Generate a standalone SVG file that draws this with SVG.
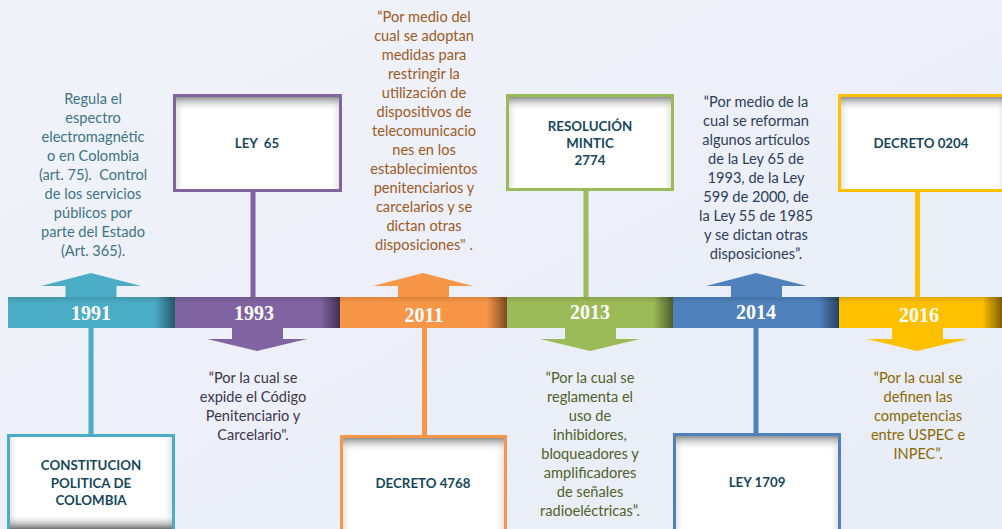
<svg xmlns="http://www.w3.org/2000/svg" width="1002" height="529" viewBox="0 0 1002 529">
<defs>
<linearGradient id="bg" x1="0" y1="0" x2="1" y2="1">
<stop offset="0" stop-color="#F1F3FA"/>
<stop offset="1" stop-color="#E8ECF6"/>
</linearGradient>
<linearGradient id="shade" x1="0" y1="0" x2="1" y2="0">
<stop offset="0" stop-color="#000" stop-opacity="0"/>
<stop offset="0.88" stop-color="#000" stop-opacity="0"/>
<stop offset="1" stop-color="#000" stop-opacity="0.5"/>
</linearGradient>
<linearGradient id="topshade" x1="0" y1="0" x2="0" y2="1">
<stop offset="0" stop-color="#000" stop-opacity="0.12"/>
<stop offset="0.2" stop-color="#000" stop-opacity="0"/>
<stop offset="1" stop-color="#000" stop-opacity="0"/>
</linearGradient>
<linearGradient id="boxtop" x1="0" y1="0" x2="0" y2="1">
<stop offset="0" stop-color="#777777"/>
<stop offset="1" stop-color="#FFFFFF" stop-opacity="0"/>
</linearGradient>
<linearGradient id="boxbot" x1="0" y1="0" x2="0" y2="1">
<stop offset="0" stop-color="#FFFFFF" stop-opacity="0"/>
<stop offset="1" stop-color="#6F6F6F"/>
</linearGradient>
<linearGradient id="boxside" x1="0" y1="0" x2="1" y2="0">
<stop offset="0" stop-color="#000" stop-opacity="0.12"/>
<stop offset="0.05" stop-color="#000" stop-opacity="0"/>
<stop offset="0.95" stop-color="#000" stop-opacity="0"/>
<stop offset="1" stop-color="#000" stop-opacity="0.12"/>
</linearGradient>
</defs>
<style>
.year{font-family:"Liberation Serif","DejaVu Serif",serif;font-weight:bold;font-size:20px;fill:#FFFFFF;text-anchor:middle}
.desc{font-family:Lato,"Open Sans",sans-serif;font-size:14.6px;text-anchor:middle}
.lbl{font-family:Lato,"Open Sans",sans-serif;font-weight:bold;font-size:13.3px;fill:#16475C;text-anchor:middle}
.box{fill:#FFFFFF}
.frame{fill:none;stroke-width:3}
.c1{fill:#4BACC6}.s1{stroke:#4BACC6}
.c2{fill:#8064A2}.s2{stroke:#8064A2}
.c3{fill:#F79646}.s3{stroke:#F79646}
.c4{fill:#9BBB59}.s4{stroke:#9BBB59}
.c5{fill:#4F81BD}.s5{stroke:#4F81BD}
.c6{fill:#FFC000}.s6{stroke:#FFC000}
.conn{stroke-width:5;fill:none}
</style>
<rect x="0" y="0" width="1002" height="529" fill="url(#bg)"/>

<g id="connectors">
<line class="conn s1" x1="91" y1="328" x2="91" y2="435"/>
<line class="conn s2" x1="253" y1="191" x2="253" y2="297"/>
<line class="conn s3" x1="424.5" y1="328" x2="424.5" y2="435"/>
<line class="conn s4" x1="586" y1="190" x2="586" y2="297"/>
<line class="conn s5" x1="756" y1="328" x2="756" y2="433"/>
<line class="conn s6" x1="917.5" y1="191" x2="917.5" y2="297"/>
</g>

<g id="y1991">
<polygon class="c1" points="91,273 141,286 116.5,286 116.5,297 65.5,297 65.5,286 41,286"/>
<rect class="c1" x="8" y="297" width="167" height="31"/>
<rect x="8" y="297" width="167" height="31" fill="url(#shade)"/>
<rect x="8" y="297" width="167" height="31" fill="url(#topshade)"/>
<text class="year" x="91" y="320">1991</text>
</g>
<g id="y1993">
<rect class="c2" x="175" y="297" width="165" height="31"/>
<rect x="175" y="297" width="165" height="31" fill="url(#shade)"/>
<rect x="175" y="297" width="165" height="31" fill="url(#topshade)"/>
<polygon class="c2" points="232,328 283,328 283,339 307,339 257,351 207,339 232,339"/>
<text class="year" x="254" y="320">1993</text>
</g>
<g id="y2011">
<polygon class="c3" points="423,273 473,286 449,286 449,297 398,297 398,286 373,286"/>
<rect class="c3" x="340" y="297" width="167" height="31"/>
<rect x="340" y="297" width="167" height="31" fill="url(#shade)"/>
<rect x="340" y="297" width="167" height="31" fill="url(#topshade)"/>
<text class="year" x="424" y="322">2011</text>
</g>
<g id="y2013">
<rect class="c4" x="507" y="297" width="166" height="31"/>
<rect x="507" y="297" width="166" height="31" fill="url(#shade)"/>
<rect x="507" y="297" width="166" height="31" fill="url(#topshade)"/>
<polygon class="c4" points="565,328 616,328 616,339 640,339 590,351 540,339 565,339"/>
<text class="year" x="590" y="319">2013</text>
</g>
<g id="y2014">
<polygon class="c5" points="756,273 807,286 782,286 782,297 731,297 731,286 706,286"/>
<rect class="c5" x="673" y="297" width="166" height="31"/>
<rect x="673" y="297" width="166" height="31" fill="url(#shade)"/>
<rect x="673" y="297" width="166" height="31" fill="url(#topshade)"/>
<text class="year" x="756" y="319">2014</text>
</g>
<g id="y2016">
<rect class="c6" x="839" y="297" width="163" height="31"/>
<rect x="839" y="297" width="163" height="31" fill="url(#shade)"/>
<rect x="839" y="297" width="163" height="31" fill="url(#topshade)"/>
<polygon class="c6" points="892,328 943,328 943,339 968,339 917,351 867,339 892,339"/>
<text class="year" x="919" y="322">2016</text>
</g>

<g id="desc1991" class="desc" fill="#3D7483">
<text x="93" y="104">Regula el</text>
<text x="93" y="123">espectro</text>
<text x="93" y="142">electromagnétic</text>
<text x="93" y="161">o en Colombia</text>
<text x="93" y="180" xml:space="preserve">(art. 75).  Control</text>
<text x="93" y="199">de los servicios</text>
<text x="93" y="218">públicos por</text>
<text x="93" y="237">parte del Estado</text>
<text x="93" y="256">(Art. 365).</text>
</g>

<g id="desc2011" class="desc" fill="#9E5A1E">
<text x="424" y="22">“Por medio del</text>
<text x="424" y="41">cual se adoptan</text>
<text x="424" y="60">medidas para</text>
<text x="424" y="79">restringir la</text>
<text x="424" y="98">utilización de</text>
<text x="424" y="117">dispositivos de</text>
<text x="424" y="136">telecomunicacio</text>
<text x="424" y="155">nes en los</text>
<text x="424" y="174">establecimientos</text>
<text x="424" y="193">penitenciarios y</text>
<text x="424" y="212">carcelarios y se</text>
<text x="424" y="231">dictan otras</text>
<text x="424" y="250">disposiciones" .</text>
</g>

<g id="desc2014" class="desc" fill="#2C3E5A">
<text x="756" y="107">“Por medio de la</text>
<text x="756" y="126">cual se reforman</text>
<text x="756" y="145">algunos artículos</text>
<text x="756" y="164">de la Ley 65 de</text>
<text x="756" y="183">1993, de la Ley</text>
<text x="756" y="202">599 de 2000, de</text>
<text x="756" y="221">la Ley 55 de 1985</text>
<text x="756" y="240">y se dictan otras</text>
<text x="756" y="259">disposiciones”.</text>
</g>

<g id="desc1993" class="desc" fill="#3C3550">
<text x="253" y="383">“Por la cual se</text>
<text x="253" y="402">expide el Código</text>
<text x="253" y="421">Penitenciario y</text>
<text x="253" y="440">Carcelario".</text>
</g>

<g id="desc2013" class="desc" fill="#4F6228">
<text x="590" y="383">“Por la cual se</text>
<text x="590" y="402">reglamenta el</text>
<text x="590" y="421">uso de</text>
<text x="590" y="440">inhibidores,</text>
<text x="590" y="459">bloqueadores y</text>
<text x="590" y="478">amplificadores</text>
<text x="590" y="497">de señales</text>
<text x="590" y="516">radioeléctricas”.</text>
</g>

<g id="desc2016" class="desc" fill="#8A6A00">
<text x="918" y="383">“Por la cual se</text>
<text x="918" y="402">definen las</text>
<text x="918" y="421">competencias</text>
<text x="918" y="440">entre USPEC e</text>
<text x="918" y="459">INPEC”.</text>
</g>

<g id="box-constitucion">
<rect class="box" x="8.5" y="435.5" width="165" height="100"/>
<rect x="8.5" y="435.5" width="165" height="100" fill="url(#boxside)"/>
<rect x="8.5" y="514" width="165" height="15" fill="url(#boxbot)"/>
<rect class="frame s1" x="8.5" y="435.5" width="165" height="100"/>
<text class="lbl" x="91" y="470">CONSTITUCION</text>
<text class="lbl" x="91" y="488">POLITICA DE</text>
<text class="lbl" x="91" y="505">COLOMBIA</text>
</g>

<g id="box-ley65">
<rect class="box" x="174.5" y="95.5" width="166" height="95"/>
<rect x="174.5" y="95.5" width="166" height="95" fill="url(#boxside)"/>
<rect x="174.5" y="95.5" width="166" height="16" fill="url(#boxtop)"/>
<rect class="frame s2" x="174.5" y="95.5" width="166" height="95"/>
<text class="lbl" x="257" y="148" xml:space="preserve">LEY  65</text>
</g>

<g id="box-decreto4768">
<rect class="box" x="341.5" y="436.5" width="164" height="100"/>
<rect x="341.5" y="436.5" width="164" height="100" fill="url(#boxside)"/>
<rect x="341.5" y="436.5" width="164" height="16" fill="url(#boxtop)"/>
<rect class="frame s3" x="341.5" y="436.5" width="164" height="100"/>
<text class="lbl" x="423" y="488">DECRETO 4768</text>
</g>

<g id="box-resolucion">
<rect class="box" x="507.5" y="95.5" width="165" height="94"/>
<rect x="507.5" y="95.5" width="165" height="94" fill="url(#boxside)"/>
<rect x="507.5" y="95.5" width="165" height="16" fill="url(#boxtop)"/>
<rect class="frame s4" x="507.5" y="95.5" width="165" height="94"/>
<text class="lbl" x="590" y="131">RESOLUCIÓN</text>
<text class="lbl" x="590" y="148">MINTIC</text>
<text class="lbl" x="590" y="165">2774</text>
</g>

<g id="box-ley1709">
<rect class="box" x="674.5" y="434.5" width="165" height="100"/>
<rect x="674.5" y="434.5" width="165" height="100" fill="url(#boxside)"/>
<rect x="674.5" y="434.5" width="165" height="16" fill="url(#boxtop)"/>
<rect class="frame s5" x="674.5" y="434.5" width="165" height="100"/>
<text class="lbl" x="757" y="487">LEY 1709</text>
</g>

<g id="box-decreto0204">
<rect class="box" x="839.5" y="95.5" width="166" height="95"/>
<rect x="839.5" y="95.5" width="166" height="95" fill="url(#boxside)"/>
<rect x="839.5" y="95.5" width="166" height="16" fill="url(#boxtop)"/>
<rect class="frame s6" x="839.5" y="95.5" width="166" height="95"/>
<text class="lbl" x="921" y="148">DECRETO 0204</text>
</g>
</svg>
